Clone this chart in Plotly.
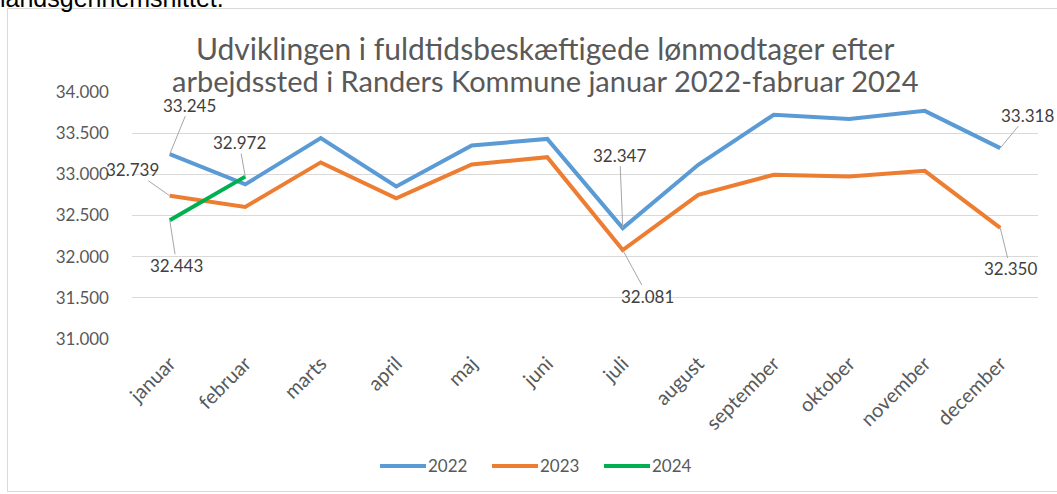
import plotly.graph_objects as go

months = ["januar", "februar", "marts", "april", "maj", "juni", "juli",
          "august", "september", "oktober", "november", "december"]
v2022 = [33245, 32878, 33440, 32852, 33350, 33430, 32347, 33116, 33724, 33672, 33771, 33318]
v2023 = [32739, 32605, 33145, 32710, 33120, 33208, 32081, 32751, 32994, 32974, 33043, 32350]
v2024 = [32443, 32972]
series_names = ["2022", "2023", "2024"]
title_lines = ["Udviklingen i fuldtidsbeskæftigede lønmodtager efter",
               "arbejdssted i Randers Kommune januar 2022-fabruar 2024"]
top_text = "landsgennemsnittet."
yticks = [31000, 31500, 32000, 32500, 33000, 33500, 34000]

W, H = 1057, 494
L, R, T, B = 132, 19, 92, 155
PW, PH = W - L - R, H - T - B


def px_x(p):
    return (p - L) / PW


def px_y(p):
    return (H - B - p) / PH


def dk(v):
    return f"{v:,}".replace(",", ".")


colors = ["#5B9BD5", "#ED7D31", "#00B050"]
data = [v2022, v2023, v2024]

fig = go.Figure()
for name, vals, col in zip(series_names, data, colors):
    fig.add_trace(go.Scatter(
        x=months[:len(vals)], y=vals, mode="lines", name=name,
        line=dict(color=col, width=4), hoverinfo="skip", showlegend=False))

# data labels: (series index, point index, ax, ay)
labels = [(0, 0, 20, -49), (2, 1, -6, -34), (1, 0, -37, -26), (2, 0, 7, 45),
          (0, 6, -3, -73), (1, 6, 25, 46), (0, 11, 27, -33), (1, 11, 10, 41)]
annotations = []
for si, pi, ax, ay in labels:
    v = data[si][pi]
    annotations.append(dict(
        x=months[pi], y=v, xref="x", yref="y", text=dk(v),
        showarrow=True, arrowhead=0, arrowwidth=1, arrowcolor="#A6A6A6",
        standoff=0, ax=ax, ay=ay, axref="pixel", ayref="pixel",
        font=dict(family="Lato", size=17, color="#404040"), borderpad=0))

# title lines
for line, cy, fs in zip(title_lines, [48, 80], [30, 29]):
    annotations.append(dict(
        x=px_x(545), y=px_y(cy), xref="paper", yref="paper", text=line,
        showarrow=False, xanchor="center", yanchor="middle",
        font=dict(family="Lato", size=fs, color="#595959")))

# cut-off document text above the chart
annotations.append(dict(
    x=px_x(-2), y=px_y(-2), xref="paper", yref="paper", text=top_text,
    showarrow=False, xanchor="left", yanchor="middle",
    font=dict(family="Liberation Sans", size=25, color="#000000")))

shapes = [dict(type="rect", xref="paper", yref="paper",
               x0=px_x(7.5), x1=px_x(1070), y0=px_y(491.5), y1=px_y(8.5),
               line=dict(color="#D9D9D9", width=1), layer="below")]

# legend (drawn as line samples with labels)
legend_x = [380, 492, 604]
for name, col, lx in zip(series_names, colors, legend_x):
    shapes.append(dict(type="line", xref="paper", yref="paper",
                       x0=px_x(lx), x1=px_x(lx + 46), y0=px_y(466), y1=px_y(466),
                       line=dict(color=col, width=4)))
    annotations.append(dict(
        x=px_x(lx + 46), y=px_y(466), xref="paper", yref="paper", text=name,
        showarrow=False, xanchor="left", yanchor="middle",
        font=dict(family="Lato", size=17, color="#595959")))

fig.update_layout(
    width=W, height=H,
    margin=dict(l=L, r=R, t=T, b=B, autoexpand=False),
    paper_bgcolor="white", plot_bgcolor="white",
    separators=",.",
    showlegend=False,
    annotations=annotations,
    shapes=shapes,
    xaxis=dict(type="category", categoryorder="array", categoryarray=months,
               range=[-0.5, 11.5], tickangle=-45, showgrid=False, showline=False,
               zeroline=False, ticks="", ticklabelstandoff=8, automargin=False,
               tickfont=dict(family="Lato", size=20, color="#595959")),
    yaxis=dict(range=[31000, 34000], tickvals=yticks, tickformat=",d",
               showgrid=True, gridcolor="#D9D9D9", gridwidth=1, zeroline=False,
               showline=False, ticks="", ticklabelstandoff=22, automargin=False,
               tickfont=dict(family="Lato", size=17, color="#595959")),
)

fig.write_html("out.html",
               config={"displayModeBar": False},
               post_script="document.body.style.margin='0px';"
                           "document.body.style.overflow='hidden';")
